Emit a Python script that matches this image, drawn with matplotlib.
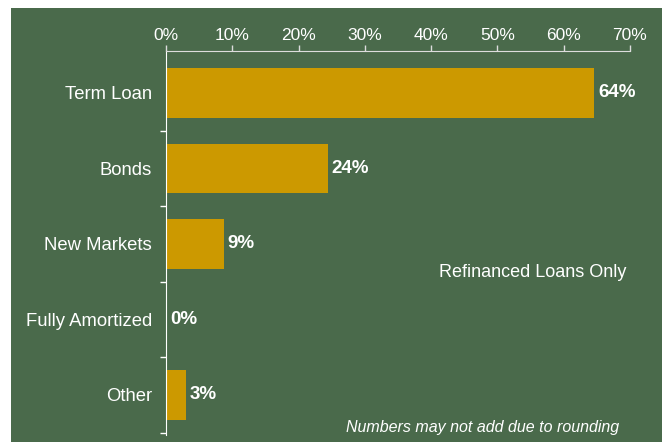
import matplotlib.pyplot as plt
from matplotlib.patches import Rectangle

categories = ["Term Loan", "Bonds", "New Markets", "Fully Amortized", "Other"]
values = [64.6, 24.4, 8.7, 0.0, 3.0]
labels = ["64%", "24%", "9%", "0%", "3%"]
xticks = [0, 10, 20, 30, 40, 50, 60, 70]

GREEN = "#4a6a4b"
GOLD = "#cc9900"

plt.rcParams["font.family"] = ["Liberation Sans", "DejaVu Sans"]

fig = plt.figure(figsize=(6.66, 4.42), dpi=100, facecolor="white")
fig.patches.append(Rectangle((11 / 666, 0), 651 / 666, 1 - 8 / 442,
                             transform=fig.transFigure, facecolor=GREEN,
                             edgecolor="none", zorder=-10))

ax = fig.add_axes([166 / 666, 1 - 435 / 442, 464 / 666, 384 / 442])
ax.set_facecolor("none")
ax.set_zorder(5)

y = list(range(len(categories)))
ax.barh(y, values, height=0.66, color=GOLD, edgecolor="none")

for yi, v, lab in zip(y, values, labels):
    ax.text(v + 0.6, yi, lab, va="center", ha="left", color="white",
            fontsize=13.5, fontweight="bold")

ax.set_xlim(0, 70)
ax.set_ylim(4.53, -0.555)

ax.xaxis.tick_top()
ax.set_xticks(xticks)
ax.set_xticklabels([f"{t}%" for t in xticks])
ax.tick_params(axis="x", colors="#dddddd", labelcolor="white", length=4,
               width=1, labelsize=12.5, pad=2, direction="out")

ax.set_yticks(y)
ax.set_yticklabels(categories)
ax.set_yticks([0.5, 1.5, 2.5, 3.5, 4.5], minor=True)
ax.tick_params(axis="y", which="major", length=0, labelcolor="white",
               labelsize=13.3, pad=10)
ax.tick_params(axis="y", which="minor", length=4, color="white", width=1)

for s in ["right", "bottom"]:
    ax.spines[s].set_visible(False)
ax.spines["top"].set_color("#dddddd")
ax.spines["left"].set_color("white")

ax.text(0.79, 0.422, "Refinanced Loans Only", transform=ax.transAxes,
        ha="center", va="center", color="white", fontsize=13)
ax.text(0.682, 0.02, "Numbers may not add due to rounding", transform=ax.transAxes,
        ha="center", va="center", color="white", fontsize=11.5, style="italic")

fig.savefig("out.png", dpi=100, facecolor="white")
